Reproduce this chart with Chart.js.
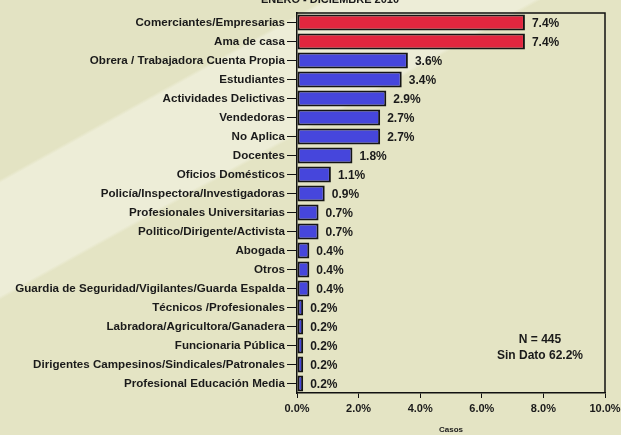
<!DOCTYPE html>
<html lang="es">
<head>
    <meta charset="UTF-8">
    <title>Ocupación</title>
    <script src="https://cdn.jsdelivr.net/npm/chart.js@4.4.1/dist/chart.umd.js"></script>
    <style>
        html, body { margin: 0; padding: 0; }
        body {
            width: 621px; height: 435px; overflow: hidden;
            background: linear-gradient(151deg, #e3e3c3 0%, #e3e3c3 23%, #ededd7 23.5%, #ededd7 38%, #e4e4c4 38.5%, #e4e4c4 100%);
        }
        .chart-container { position: relative; width: 621px; height: 435px; }
    </style>
</head>
<body>
    <div class="chart-container">
        <canvas id="chart"></canvas>
    </div>
    <script>
        // categorías y porcentajes
        const categories = [
            'Comerciantes/Empresarias', 'Ama de casa', 'Obrera / Trabajadora Cuenta Propia',
            'Estudiantes', 'Actividades Delictivas', 'Vendedoras', 'No Aplica', 'Docentes',
            'Oficios Domésticos', 'Policía/Inspectora/Investigadoras', 'Profesionales Universitarias',
            'Politico/Dirigente/Activista', 'Abogada', 'Otros',
            'Guardia de Seguridad/Vigilantes/Guarda Espalda', 'Técnicos /Profesionales',
            'Labradora/Agricultora/Ganadera', 'Funcionaria Pública',
            'Dirigentes Campesinos/Sindicales/Patronales', 'Profesional Educación Media'
        ];
        const percentages = [7.4, 7.4, 3.6, 3.4, 2.9, 2.7, 2.7, 1.8, 1.1, 0.9, 0.7, 0.7, 0.4, 0.4, 0.4, 0.2, 0.2, 0.2, 0.2, 0.2];
        const xTicks = [0, 2, 4, 6, 8, 10];
        const notes = ['N = 445', 'Sin Dato 62.2%'];
        const title = 'ENERO - DICIEMBRE 2010';

        const font = "'Liberation Sans', Arial, sans-serif";
        const barColors = percentages.map(v => v >= 7 ? '#e2263f' : '#4646dc');

        const extras = {
            id: 'extras',
            afterDatasetsDraw(chart) {
                const ctx = chart.ctx;
                const a = chart.chartArea;
                ctx.save();
                // marco superior y derecho
                ctx.strokeStyle = '#111';
                ctx.lineWidth = 1.5;
                ctx.beginPath();
                ctx.moveTo(a.left, a.top);
                ctx.lineTo(a.right, a.top);
                ctx.lineTo(a.right, a.bottom);
                ctx.stroke();
                // etiquetas de valor
                const meta = chart.getDatasetMeta(0);
                ctx.fillStyle = '#1a1a1a';
                ctx.font = 'bold 12px ' + font;
                ctx.textBaseline = 'middle';
                ctx.textAlign = 'left';
                meta.data.forEach((bar, i) => {
                    ctx.fillText(percentages[i].toFixed(1) + '%', bar.x + 7, bar.y + 1);
                });
                // notas
                ctx.font = 'bold 12px ' + font;
                ctx.textAlign = 'center';
                ctx.fillText(notes[0], 540, 340);
                ctx.fillText(notes[1], 540, 356);
                // título (recortado arriba)
                ctx.font = 'bold 11px ' + font;
                ctx.fillText(title, 330, 0);
                ctx.restore();
            }
        };

        new Chart(document.getElementById('chart'), {
            type: 'bar',
            data: {
                labels: categories,
                datasets: [{
                    data: percentages,
                    backgroundColor: barColors,
                    borderColor: '#151515',
                    borderWidth: 2,
                    borderSkipped: false,
                    barPercentage: 0.84,
                    categoryPercentage: 1
                }]
            },
            options: {
                indexAxis: 'y',
                responsive: true,
                maintainAspectRatio: false,
                animation: false,
                layout: { padding: { top: 13, right: 16, left: 0, bottom: 0 } },
                plugins: {
                    legend: { display: false },
                    tooltip: { enabled: false }
                },
                scales: {
                    x: {
                        min: 0, max: 10,
                        afterBuildTicks(scale) { scale.ticks = xTicks.map(v => ({ value: v })); },
                        afterFit(scale) {
                            scale.height = 42;
                            scale.paddingRight = 0;
                        },
                        grid: { display: true, drawOnChartArea: false, tickLength: 5, color: '#111' },
                        border: { display: true, color: '#111', width: 1.5 },
                        ticks: {
                            color: '#1a1a1a', padding: 4,
                            font: { family: font, size: 11, weight: 'bold' },
                            callback: v => v.toFixed(1) + '%'
                        },
                        title: {
                            display: true, text: 'Casos', color: '#1a1a1a', padding: { top: 5, bottom: 0 },
                            font: { family: font, size: 8, weight: 'bold' }
                        }
                    },
                    y: {
                        afterFit(scale) { scale.width = 297; },
                        grid: { display: true, offset: false, drawOnChartArea: false, tickLength: 10, color: '#111' },
                        border: { display: true, color: '#111', width: 1.5 },
                        ticks: {
                            color: '#1a1a1a', padding: 2, autoSkip: false,
                            font: { family: font, size: 11.6, weight: 'bold' }
                        }
                    }
                }
            },
            plugins: [extras]
        });
    </script>
</body>
</html>
